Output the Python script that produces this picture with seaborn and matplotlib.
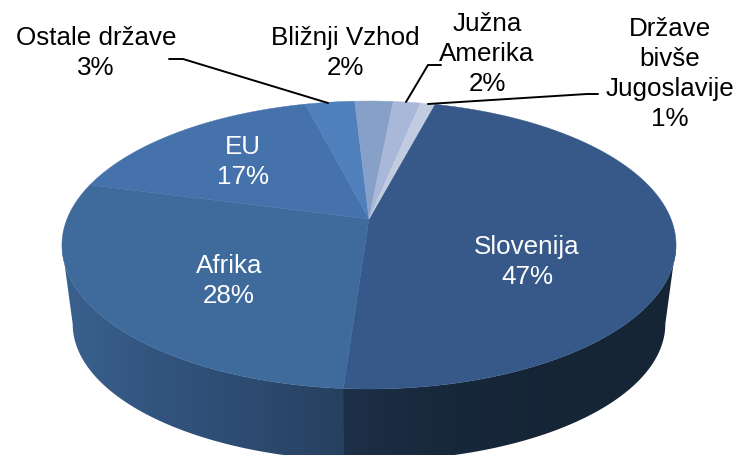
import numpy as np
import pandas as pd
import seaborn as sns
import matplotlib
matplotlib.use("Agg")
import matplotlib.pyplot as plt
from matplotlib.colors import ListedColormap
from matplotlib.patches import Polygon

# --- data -------------------------------------------------------------
categories = ["Slovenija", "Afrika", "EU", "Ostale države", "Bližnji Vzhod", "Južna\nAmerika", "Države\nbivše\nJugoslavije"]
values = [47.0, 28.0, 16.9, 3.1, 2.4, 1.7, 0.9]
percent_labels = ["47%", "28%", "17%", "3%", "2%", "2%", "1%"]
top_colors = ["#36598A", "#3E6A9C", "#4672AC", "#4F80BC", "#87A0C8", "#A9B8D8", "#C2CCE0"]

# --- style / layout ---------------------------------------------------
sns.set_theme(style="white")
plt.rcParams["font.family"] = ["Liberation Sans", "DejaVu Sans"]

df = pd.DataFrame({"category": categories, "value": values, "pct": percent_labels, "color": top_colors})

fig = plt.figure(figsize=(7.36, 4.56), dpi=100, facecolor="white")
ax = fig.add_axes([0, 0, 1, 1])
ax.axis("off")
sns.despine(ax=ax, left=True, bottom=True)

# perspective projection of a unit disc
APEX = (369.0, 220.0)
K, SX, SY = 0.1806, 302.0, 139.3
START = 75.2
TANGENT = np.degrees(np.arcsin(K))


def top(t_deg):
    t = np.radians(t_deg)
    w = 1 + K * np.sin(t)
    return APEX[0] + SX * np.cos(t) / w, APEX[1] - SY * np.sin(t) / w


TOP_CY, BOT_CY, WX, WY = 246.0, 325.0, 0.965, 0.95


def bottom(t_deg):
    x, y = top(t_deg)
    return APEX[0] + WX * (x - APEX[0]), BOT_CY + WY * (y - TOP_CY)


df["sweep"] = df["value"] / df["value"].sum() * 360
df["t_start"] = START - df["sweep"].cumsum().shift(fill_value=0)
df["t_end"] = df["t_start"] - df["sweep"]

# side wall, shaded along the screen x; Slovenija is painted first and runs
# slightly under Afrika so that no seam shows between them
wall_ramps = {
    "Slovenija": (["#1E3049", "#17283A", "#152536", "#152536"], 335.0, 680.0, 0.6),
    "Afrika": (["#3B6290", "#32557F", "#2D4B71", "#26405F"], 58.0, 345.0, 0.0),
}

for _, row in df.iterrows():
    if row["category"] not in wall_ramps:
        continue
    stops, x0, x1, overlap = wall_ramps[row["category"]]
    lo = max(row["t_end"] - overlap, -180.0 + TANGENT)
    hi = min(row["t_start"], -TANGENT)
    ts = np.linspace(lo, hi, 300)
    xt, yt = top(ts)
    xb, yb = bottom(ts)
    outline = np.c_[np.r_[xt, xb[::-1]], np.r_[yt, yb[::-1]]]
    cmap = ListedColormap(sns.blend_palette(stops, n_colors=256))
    im = ax.imshow(np.linspace(0, 1, 512)[None, :], cmap=cmap, aspect="auto",
                   extent=(x0, x1, 470, 150), zorder=1, interpolation="bilinear")
    poly = Polygon(outline, closed=True, transform=ax.transData, facecolor="none", edgecolor="none")
    ax.add_patch(poly)
    im.set_clip_path(poly)

ax.set_xlim(0, 736)
ax.set_ylim(456, 0)
ax.set_aspect("auto")

# top surface
for _, row in df.iterrows():
    ts = np.linspace(row["t_end"], row["t_start"], 200)
    x, y = top(ts)
    ax.fill(np.r_[APEX[0], x], np.r_[APEX[1], y], facecolor=row["color"],
            edgecolor=row["color"], lw=0.3, zorder=2)

# labels
label_pos = {
    "Slovenija": (527, 262, "white"),
    "Afrika": (229, 281, "white"),
    "EU": (243, 162, "white"),
    "Ostale države": (96, 53, "black"),
    "Bližnji Vzhod": (345, 53, "black"),
    "Južna\nAmerika": (487, 54, "black"),
    "Države\nbivše\nJugoslavije": (670, 74, "black"),
}
for _, row in df.iterrows():
    lx, ly, col = label_pos[row["category"]]
    ax.text(lx, ly, f"{row['category']}\n{row['pct']}", ha="center", va="center",
            ma="center", color=col, fontsize=18.7, linespacing=1.3, zorder=4)

# leader lines
leaders = [
    ([169, 183, 328], [60, 60, 104]),
    ([441, 428, 406], [66, 66, 103]),
    ([598, 587, 428], [95, 95, 105]),
]
for lxs, lys in leaders:
    ax.plot(lxs, lys, color="black", lw=1.4, solid_joinstyle="miter", zorder=3)

fig.savefig("out.png", dpi=100, facecolor="white")
